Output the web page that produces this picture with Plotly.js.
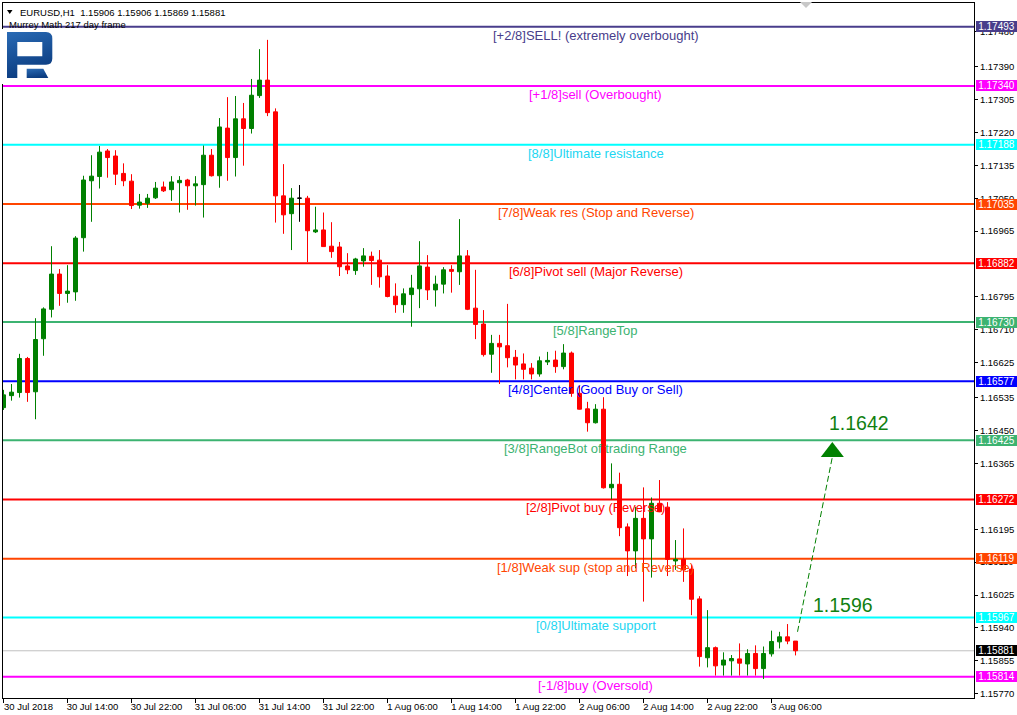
<!DOCTYPE html>
<html>
<head>
<meta charset="utf-8">
<script src="https://cdn.plot.ly/plotly-3.0.1.min.js"></script>
<style>
  html, body { margin: 0; padding: 0; background: #ffffff; }
  #chart { width: 1017px; height: 715px; }
</style>
</head>
<body>
<div id="chart"></div>
<script>
// EURUSD H1 candles, 30 Jul 2018 06:00 through 3 Aug 2018 09:00 (one bar per hour)
const barOpen = [
  1.16509, 1.16540, 1.16548, 1.16636, 1.16550, 1.16687, 1.16763, 1.16854, 1.16804, 1.16808,
  1.16948, 1.17095, 1.17106, 1.17172, 1.17159, 1.17114, 1.17094, 1.17032, 1.17037, 1.17051,
  1.17079, 1.17072, 1.17090, 1.17097, 1.17082, 1.17085, 1.17161, 1.17108, 1.17231, 1.17155,
  1.17255, 1.17230, 1.17315, 1.17355, 1.17273, 1.17056, 1.17010, 1.17050, 1.17050, 1.16963,
  1.16968, 1.16926, 1.16924, 1.16875, 1.16863, 1.16888, 1.16900, 1.16890, 1.16849, 1.16797,
  1.16775, 1.16801, 1.16816, 1.16872, 1.16813, 1.16828, 1.16866, 1.16860, 1.16901, 1.16766,
  1.16725, 1.16647, 1.16675, 1.16669, 1.16639, 1.16622, 1.16611, 1.16596, 1.16627, 1.16632,
  1.16615, 1.16650, 1.16546, 1.16506, 1.16470, 1.16505, 1.16302, 1.16311, 1.16201, 1.16139,
  1.16223, 1.16170, 1.16262, 1.16252, 1.16113, 1.16117, 1.16092, 1.16015, 1.15863, 1.15889,
  1.15844, 1.15855, 1.15860, 1.15847, 1.15874, 1.15835, 1.15873, 1.15904, 1.15917, 1.15906
];
const barHigh = [
  1.16555, 1.16570, 1.16648, 1.16640, 1.16740, 1.16768, 1.16926, 1.16867, 1.16877, 1.16952,
  1.17108, 1.17161, 1.17185, 1.17177, 1.17174, 1.17140, 1.17112, 1.17061, 1.17061, 1.17092,
  1.17093, 1.17107, 1.17107, 1.17100, 1.17107, 1.17186, 1.17177, 1.17257, 1.17311, 1.17314,
  1.17296, 1.17358, 1.17435, 1.17459, 1.17282, 1.17138, 1.17076, 1.17084, 1.17056, 1.17028,
  1.17013, 1.16988, 1.16937, 1.16908, 1.16896, 1.16921, 1.16912, 1.16916, 1.16877, 1.16830,
  1.16817, 1.16852, 1.16939, 1.16903, 1.16850, 1.16872, 1.16877, 1.16996, 1.16916, 1.16865,
  1.16761, 1.16697, 1.16697, 1.16777, 1.16658, 1.16649, 1.16624, 1.16641, 1.16653, 1.16656,
  1.16673, 1.16654, 1.16565, 1.16524, 1.16518, 1.16536, 1.16365, 1.16341, 1.16210, 1.16253,
  1.16303, 1.16277, 1.16322, 1.16265, 1.16167, 1.16197, 1.16103, 1.16022, 1.15986, 1.15892,
  1.15877, 1.15870, 1.15900, 1.15885, 1.15895, 1.15892, 1.15933, 1.15930, 1.15950, 1.15906
];
const barLow = [
  1.16503, 1.16527, 1.16535, 1.16524, 1.16479, 1.16643, 1.16742, 1.16772, 1.16780, 1.16785,
  1.16912, 1.16989, 1.17075, 1.17103, 1.17084, 1.17081, 1.17022, 1.17023, 1.17025, 1.17048,
  1.17066, 1.17043, 1.17013, 1.17020, 1.17031, 1.17000, 1.17106, 1.17077, 1.17095, 1.17106,
  1.17134, 1.17217, 1.17309, 1.17262, 1.16987, 1.16958, 1.16916, 1.16989, 1.16885, 1.16960,
  1.16925, 1.16896, 1.16849, 1.16854, 1.16852, 1.16873, 1.16826, 1.16819, 1.16794, 1.16754,
  1.16754, 1.16718, 1.16766, 1.16787, 1.16770, 1.16804, 1.16806, 1.16826, 1.16761, 1.16686,
  1.16641, 1.16599, 1.16570, 1.16613, 1.16582, 1.16582, 1.16582, 1.16589, 1.16619, 1.16599,
  1.16608, 1.16537, 1.16504, 1.16447, 1.16468, 1.16300, 1.16272, 1.16177, 1.16074, 1.16094,
  1.16008, 1.16070, 1.16239, 1.16074, 1.16090, 1.16059, 1.15973, 1.15840, 1.15838, 1.15817,
  1.15817, 1.15817, 1.15817, 1.15817, 1.15817, 1.15808, 1.15866, 1.15887, 1.15898, 1.15869
];
const barClose = [
  1.16542, 1.16549, 1.16636, 1.16548, 1.16685, 1.16764, 1.16854, 1.16804, 1.16810, 1.16947,
  1.17097, 1.17107, 1.17169, 1.17155, 1.17112, 1.17095, 1.17031, 1.17040, 1.17050, 1.17076,
  1.17069, 1.17092, 1.17096, 1.17082, 1.17087, 1.17161, 1.17108, 1.17234, 1.17155, 1.17255,
  1.17230, 1.17316, 1.17355, 1.17271, 1.17056, 1.17007, 1.17050, 1.17050, 1.16966, 1.16968,
  1.16925, 1.16912, 1.16873, 1.16865, 1.16893, 1.16901, 1.16889, 1.16847, 1.16796, 1.16775,
  1.16803, 1.16818, 1.16875, 1.16813, 1.16828, 1.16865, 1.16861, 1.16901, 1.16763, 1.16724,
  1.16646, 1.16675, 1.16666, 1.16638, 1.16619, 1.16608, 1.16596, 1.16630, 1.16631, 1.16615,
  1.16650, 1.16546, 1.16505, 1.16470, 1.16505, 1.16302, 1.16311, 1.16199, 1.16139, 1.16223,
  1.16170, 1.16262, 1.16240, 1.16117, 1.16117, 1.16090, 1.16014, 1.15866, 1.15889, 1.15842,
  1.15857, 1.15861, 1.15849, 1.15874, 1.15835, 1.15874, 1.15905, 1.15917, 1.15906, 1.15881
];

// Murrey Math levels (217 day frame)
const levelPrices = [1.17493, 1.17340, 1.17188, 1.17035, 1.16882, 1.16730,
                     1.16577, 1.16425, 1.16272, 1.16119, 1.15967, 1.15814];
const levelNames = [
  '[+2/8]SELL! (extremely overbought)', '[+1/8]sell (Overbought)', '[8/8]Ultimate resistance',
  '[7/8]Weak res (Stop and Reverse)', '[6/8]Pivot sell (Major Reverse)', '[5/8]RangeTop',
  '[4/8]Center (Good Buy or Sell)', '[3/8]RangeBot of trading Range', '[2/8]Pivot buy (Reverse)',
  '[1/8]Weak sup (stop and Reverse)', '[0/8]Ultimate support', '[-1/8]buy (Oversold)'
];
const levelColors = ['#483D8B', '#FF00FF', '#00FFFF', '#FF4500', '#FF0000', '#3CB371',
                     '#0000FF', '#3CB371', '#FF0000', '#FF4500', '#00FFFF', '#FF00FF'];
const levelTextColors = ['#483D8B', '#FF00FF', '#22D6F2', '#FF4500', '#FF0000', '#3CB371',
                         '#0000FF', '#3CB371', '#FF0000', '#FF4500', '#22D6F2', '#FF00FF'];

// Last price (bid line)
const lastPrice = 1.15881;

// Forecast arrow and its two target prices
const arrowBars = [99.25, 103.6];
const arrowFrom = 1.15930;
const targetHigh = 1.1642;
const targetLow = 1.1596;

// Axis ticks (labels that sit fully behind a level box are left out)
const priceTicks = [1.17480, 1.17390, 1.17305, 1.17220, 1.17135, 1.17050, 1.16965,
                    1.16795, 1.16710, 1.16625, 1.16535, 1.16450, 1.16365, 1.16195,
                    1.16110, 1.16025, 1.15940, 1.15855, 1.15770];
const timeTickBars = [0, 8, 16, 24, 32, 40, 48, 56, 64, 72, 80, 88, 96];
const timeTickLabels = ['30 Jul 2018', '30 Jul 14:00', '30 Jul 22:00', '31 Jul 06:00',
                        '31 Jul 14:00', '31 Jul 22:00', '1 Aug 06:00', '1 Aug 14:00',
                        '1 Aug 22:00', '2 Aug 06:00', '2 Aug 14:00', '2 Aug 22:00', '3 Aug 06:00'];

const headerSymbol = 'EURUSD,H1';
const headerQuote = [1.15906, 1.15906, 1.15869, 1.15881];
const indicatorName = 'Murrey Math 217 day frame';

// ---- geometry ----
const W = 1017, H = 715;
const M = { l: 3, r: 43, t: 3, b: 17 };
const plotW = W - M.l - M.r, plotH = H - M.t - M.b;
const Y_RANGE = [1.15759, 1.175542];
const X_RANGE = [-0.0625, 121.31];
const pxPerPrice = plotH / (Y_RANGE[1] - Y_RANGE[0]);
const pxX = px => (px - M.l) / plotW;           // figure pixel -> paper x
const pxY = py => (H - M.b - py) / plotH;       // figure pixel -> paper y

const FONT = 'Liberation Sans, Arial, sans-serif';

// ---- candles ----
const idx = barOpen.map((_, i) => i);
const isDoji = i => barOpen[i] === barClose[i];
const pick = (arr, keep) => idx.filter(keep).map(i => arr[i]);
const normal = i => !isDoji(i);

const candles = {
  type: 'candlestick',
  x: idx.filter(normal),
  open: pick(barOpen, normal), high: pick(barHigh, normal),
  low: pick(barLow, normal), close: pick(barClose, normal),
  increasing: { line: { color: '#008000', width: 1 }, fillcolor: '#008000' },
  decreasing: { line: { color: '#FF0000', width: 1 }, fillcolor: '#FF0000' },
  whiskerwidth: 0,
  hoverinfo: 'skip'
};
const dojis = {
  type: 'candlestick',
  x: idx.filter(isDoji),
  open: pick(barOpen, isDoji), high: pick(barHigh, isDoji),
  low: pick(barLow, isDoji), close: pick(barClose, isDoji),
  increasing: { line: { color: '#000000', width: 1 }, fillcolor: '#000000' },
  decreasing: { line: { color: '#000000', width: 1 }, fillcolor: '#000000' },
  whiskerwidth: 0,
  hoverinfo: 'skip'
};

// ---- forecast arrow ----
const headHalf = 10;   // marker radius in px
const arrowLine = {
  type: 'scatter', mode: 'lines',
  x: arrowBars,
  y: [arrowFrom, targetHigh - (headHalf * 1.5) / pxPerPrice],
  line: { color: '#008000', width: 1, dash: '6px,3px' },
  hoverinfo: 'skip'
};
const arrowHead = {
  type: 'scatter', mode: 'markers',
  x: [arrowBars[1]],
  y: [targetHigh - headHalf / pxPerPrice],
  marker: { symbol: 'triangle-up', size: headHalf * 2, color: '#008000', line: { width: 0 } },
  hoverinfo: 'skip'
};

// ---- shapes: level lines, bid line, small markers ----
const shapes = levelPrices.map((p, i) => ({
  type: 'line', xref: 'paper', x0: 0, x1: 1, yref: 'y', y0: p, y1: p,
  line: { color: levelColors[i], width: 2 }, layer: 'below'
}));
shapes.push({
  type: 'line', xref: 'paper', x0: 0, x1: 1, yref: 'y', y0: lastPrice, y1: lastPrice,
  line: { color: '#C0C0C0', width: 1 }, layer: 'below'
});
// header drop-down triangle
shapes.push({
  type: 'path', xref: 'paper', yref: 'paper',
  path: `M${pxX(7)},${pxY(10)} L${pxX(12.5)},${pxY(10)} L${pxX(9.75)},${pxY(14)} Z`,
  fillcolor: '#000000', line: { width: 0 }
});
// chart-shift marker at the top edge
shapes.push({
  type: 'path', xref: 'paper', yref: 'paper',
  path: `M${pxX(800)},${pxY(2)} L${pxX(812)},${pxY(2)} L${pxX(806)},${pxY(8)} Z`,
  fillcolor: '#C8C8C8', line: { width: 0 }
});

// ---- annotations ----
const annotations = [];
levelPrices.forEach((p, i) => {
  annotations.push({
    xref: 'x', yref: 'y', x: 74, y: p, xanchor: 'center', yanchor: 'top', yshift: 1,
    text: levelNames[i], showarrow: false,
    font: { family: FONT, size: 13, color: levelTextColors[i] }
  });
});
const priceBox = (p, bg) => ({
  xref: 'paper', yref: 'y', x: pxX(976), y: p, xanchor: 'left', yanchor: 'middle',
  text: p.toFixed(5), showarrow: false, bgcolor: bg, borderpad: 1, borderwidth: 0,
  width: 39, height: 9, align: 'center',
  font: { family: FONT, size: 10, color: '#FFFFFF' }
});
levelPrices.forEach((p, i) => annotations.push(priceBox(p, levelColors[i])));
annotations.push(priceBox(lastPrice, '#000000'));

annotations.push({
  xref: 'x', yref: 'y', x: 106.9, y: targetHigh, xanchor: 'center', yanchor: 'bottom', yshift: 6,
  text: targetHigh.toFixed(4), showarrow: false,
  font: { family: FONT, size: 19.5, color: '#108010' }
});
annotations.push({
  xref: 'x', yref: 'y', x: 104.9, y: targetLow, xanchor: 'center', yanchor: 'bottom', yshift: 2,
  text: targetLow.toFixed(4), showarrow: false,
  font: { family: FONT, size: 19.5, color: '#108010' }
});

annotations.push({
  xref: 'paper', yref: 'paper', x: pxX(18), y: pxY(12.3), xanchor: 'left', yanchor: 'middle',
  text: headerSymbol + '\u00A0\u00A0' + headerQuote.map(v => v.toFixed(5)).join(' '),
  showarrow: false, font: { family: FONT, size: 9.5, color: '#000000' }
});
annotations.push({
  xref: 'paper', yref: 'paper', x: pxX(7), y: pxY(24.3), xanchor: 'left', yanchor: 'middle',
  text: indicatorName, showarrow: false, font: { family: FONT, size: 9.5, color: '#000000' }
});

// ---- broker logo (drawn as inline SVG) ----
const logoSvg =
  "<svg xmlns='http://www.w3.org/2000/svg' width='58' height='55' viewBox='0 0 58 55'>" +
  "<defs><linearGradient id='lg' x1='0' y1='0' x2='0.3' y2='1'>" +
  "<stop offset='0' stop-color='#2A6BB5'/><stop offset='1' stop-color='#0B3C80'/></linearGradient></defs>" +
  "<rect width='58' height='55' fill='#ffffff'/>" +
  "<path fill='url(#lg)' fill-rule='evenodd' d='M7 3 H46 Q52.3 3 52.3 9.5 V29.5 Q52.3 35.7 46 35.7 H17.3 V49 H7 Z M17.3 13 V27.3 H42.3 V13 Z'/>" +
  "<path fill='url(#lg)' d='M26.7 39.7 H43.3 L48.3 49 H26.7 Z'/>" +
  "</svg>";
const images = [{
  source: 'data:image/svg+xml;charset=utf-8,' + encodeURIComponent(logoSvg),
  xref: 'paper', yref: 'paper', x: pxX(0), y: pxY(29),
  sizex: 58 / plotW, sizey: 55 / plotH, xanchor: 'left', yanchor: 'top',
  sizing: 'stretch', layer: 'above'
}];

const layout = {
  width: W, height: H,
  margin: M,
  paper_bgcolor: '#FFFFFF', plot_bgcolor: '#FFFFFF',
  showlegend: false,
  hovermode: false,
  boxgap: 0.5, boxgroupgap: 0,
  font: { family: FONT, size: 9.5, color: '#000000' },
  xaxis: {
    type: 'linear', range: X_RANGE, fixedrange: true,
    rangeslider: { visible: false },
    tickmode: 'array', tickvals: timeTickBars, ticktext: timeTickLabels,
    ticks: 'outside', ticklen: 4, tickwidth: 1, tickcolor: '#000000',
    ticklabelshift: 25, ticklabelstandoff: -4,
    showgrid: false, zeroline: false,
    showline: true, mirror: true, linecolor: '#000000', linewidth: 1,
    tickfont: { family: FONT, size: 9.5, color: '#000000' }
  },
  yaxis: {
    side: 'right', range: Y_RANGE, fixedrange: true,
    tickmode: 'array', tickvals: priceTicks, ticktext: priceTicks.map(v => v.toFixed(5)),
    ticks: 'outside', ticklen: 3, tickwidth: 1, tickcolor: '#000000',
    showgrid: false, zeroline: false,
    showline: true, mirror: true, linecolor: '#000000', linewidth: 1,
    tickfont: { family: FONT, size: 9.5, color: '#000000' }
  },
  shapes: shapes,
  annotations: annotations,
  images: images
};

Plotly.newPlot('chart', [candles, dojis, arrowLine, arrowHead], layout,
  { displayModeBar: false, staticPlot: true });
</script>
</body>
</html>
